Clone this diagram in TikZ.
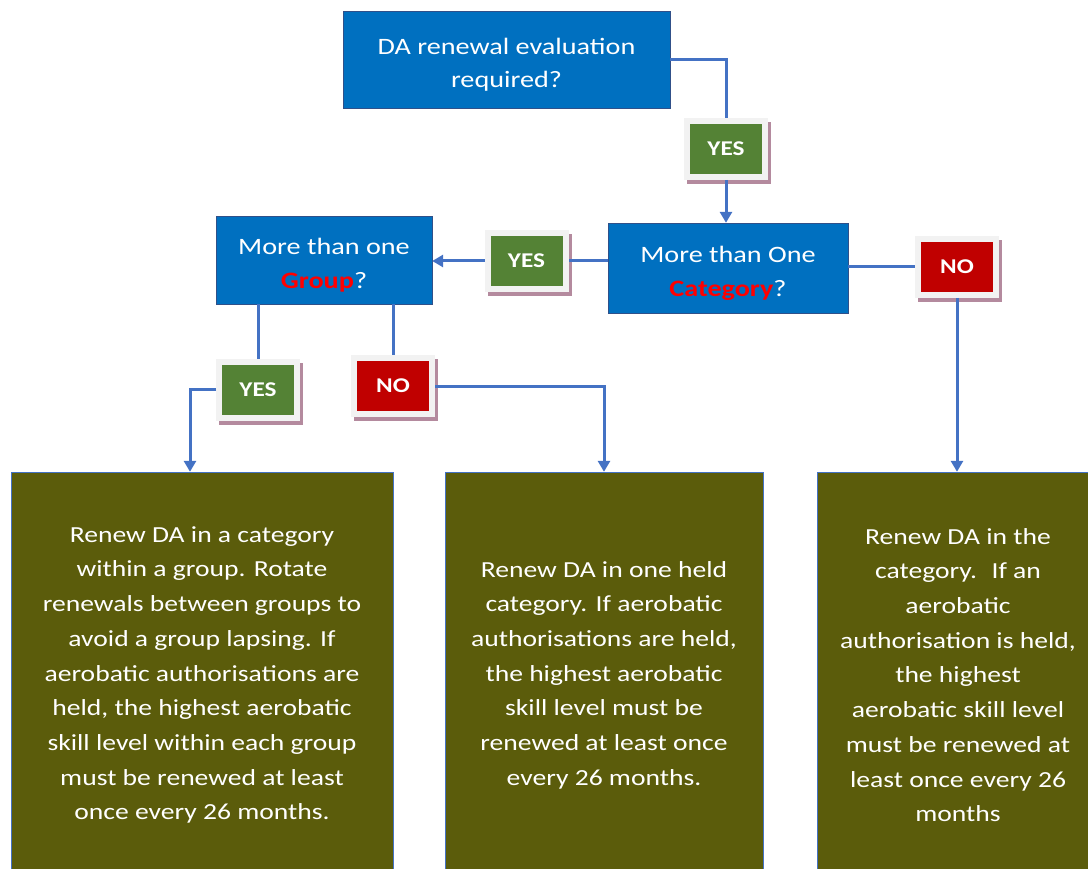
\documentclass[tikz,border=0pt]{standalone}
\usepackage{fontspec}
\setmainfont[FakeStretch=1.2]{Carlito}
\usetikzlibrary{arrows.meta,shadows}
\definecolor{boxblue}{RGB}{0,112,192}
\definecolor{boxolive}{RGB}{91,92,11}
\definecolor{linkblue}{RGB}{68,114,196}
\definecolor{yesgreen}{RGB}{84,130,53}
\definecolor{nored}{RGB}{192,0,0}
\definecolor{framegray}{RGB}{242,242,242}
\definecolor{shadowmauve}{RGB}{180,138,158}
\definecolor{keyred}{RGB}{255,0,0}
\newcommand{\toppad}{\rule{0pt}{27pt}}

\begin{document}
\begin{tikzpicture}[x=1pt, y=-1pt,
  question/.style = {rectangle, fill=boxblue, draw=linkblue!70!black, thin, text=white, align=center, font=\fontsize{23.5}{33.5}\selectfont, inner sep=0pt},
  outcome/.style = {rectangle, fill=boxolive, draw=linkblue, thin, text=white, align=center, font=\fontsize{23}{34.7}\selectfont, inner sep=0pt, minimum height=406pt},
  answer/.style = {rectangle, draw=framegray, line width=6pt, text=white, font=\fontsize{21}{21}\selectfont\bfseries, minimum width=78pt, minimum height=56pt, inner sep=0pt, drop shadow={shadow xshift=3pt, shadow yshift=-4pt, fill=shadowmauve, draw=shadowmauve, opacity=1}},
  yes/.style = {answer, fill=yesgreen},
  no/.style = {answer, fill=nored},
  link/.style = {draw=linkblue, line width=3pt},
  arrow/.style = {link, -{Triangle[width=12pt,length=11pt]}},
  ]
  \useasboundingbox (0,0) rectangle (1088,869);

  \node[question, minimum width=327pt, minimum height=97pt] (eval) at (506.5,59.5) {\toppad DA renewal evaluation\\required?};
  \node[question, minimum width=240pt, minimum height=90pt] (cat) at (728,268) {\toppad More than One\\{\color{keyred}\bfseries Category}?};
  \node[question, minimum width=216pt, minimum height=88pt] (grp) at (324,260) {\toppad More than one\\{\color{keyred}\bfseries Group}?};

  \node[outcome, minimum width=382pt] (multi) at (202,675) {Renew DA in a category\\within a group. Rotate\\renewals between groups to\\avoid a group lapsing. If\\aerobatic authorisations are\\held, the highest aerobatic\\skill level within each group\\must be renewed at least\\once every 26 months.};
  \node[outcome, minimum width=318pt] (single) at (604,675) {Renew DA in one held\\category. If aerobatic\\authorisations are held,\\the highest aerobatic\\skill level must be\\renewed at least once\\every 26 months.};
  \node[outcome, minimum width=282pt] (only) at (958,675) {Renew DA in the\\category.~ If an\\aerobatic\\authorisation is held,\\the highest\\aerobatic skill level\\must be renewed at\\least once every 26\\months};

  \node[yes] (yes1) at (726,149) {YES};
  \node[yes] (yes2) at (526.5,261) {YES};
  \node[yes] (yes3) at (258,389.5) {YES};
  \node[no] (no1) at (393,386) {NO};
  \node[no] (no2) at (957,267) {NO};

  \draw[link] (eval.east) -| (yes1.north);
  \draw[arrow] (yes1.south) -- (yes1.south |- cat.north);
  \draw[link] (cat.west |- yes2.east) -- (yes2.east);
  \draw[arrow] (yes2.west) -- (yes2.west -| grp.east);
  \draw[link] (yes3.north |- grp.south) -- (yes3.north);
  \draw[arrow] (yes3.west) -| ([xshift=-12pt]multi.north);
  \draw[link] (no1.north |- grp.south) -- (no1.north);
  \draw[arrow] (no1.east) -| (single.north);
  \draw[link] (no2.west -| cat.east) -- (no2.west);
  \draw[arrow] (no2.south) -- (no2.south |- only.north);
\end{tikzpicture}
\end{document}
